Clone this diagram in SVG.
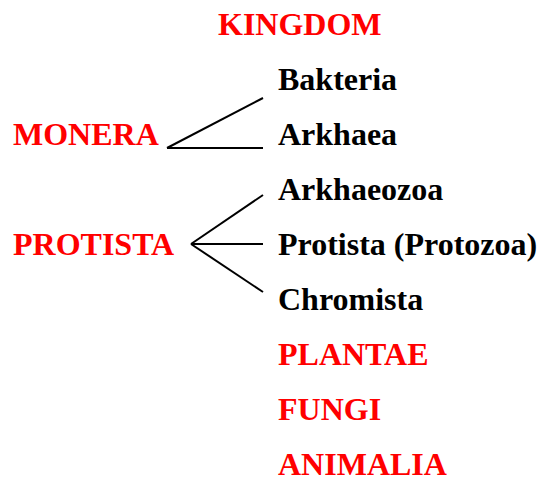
<svg xmlns="http://www.w3.org/2000/svg" width="538" height="480" viewBox="0 0 538 480">
<style>
text{font-family:"Liberation Serif","Times New Roman",serif;font-weight:bold;font-size:32px}
.r{fill:#ff0000}
.k{fill:#000}
line{stroke:#000;stroke-width:2}
</style>
<rect width="538" height="480" fill="#fff"/>
<g id="kingdom"><text class="r" x="218" y="35">KINGDOM</text></g>
<g id="monera"><text class="r" x="13" y="145">MONERA</text></g>
<g id="protista-k"><text class="r" x="13" y="255">PROTISTA</text></g>
<g id="bakteria"><text class="k" x="278" y="90">Bakteria</text></g>
<g id="arkhaea"><text class="k" x="278" y="145">Arkhaea</text></g>
<g id="arkhaeozoa"><text class="k" x="278" y="200">Arkhaeozoa</text></g>
<g id="protozoa"><text class="k" x="278" y="255">Protista (Protozoa)</text></g>
<g id="chromista"><text class="k" x="278" y="310">Chromista</text></g>
<g id="plantae"><text class="r" x="278" y="365">PLANTAE</text></g>
<g id="fungi"><text class="r" x="278" y="420">FUNGI</text></g>
<g id="animalia"><text class="r" x="278" y="475">ANIMALIA</text></g>
<g id="connectors">
<line x1="167" y1="148" x2="263" y2="98"/>
<line x1="167" y1="148" x2="263" y2="148"/>
<line x1="191" y1="244" x2="263" y2="195"/>
<line x1="191" y1="244" x2="263" y2="244"/>
<line x1="191" y1="244" x2="263" y2="292"/>
</g>
</svg>
